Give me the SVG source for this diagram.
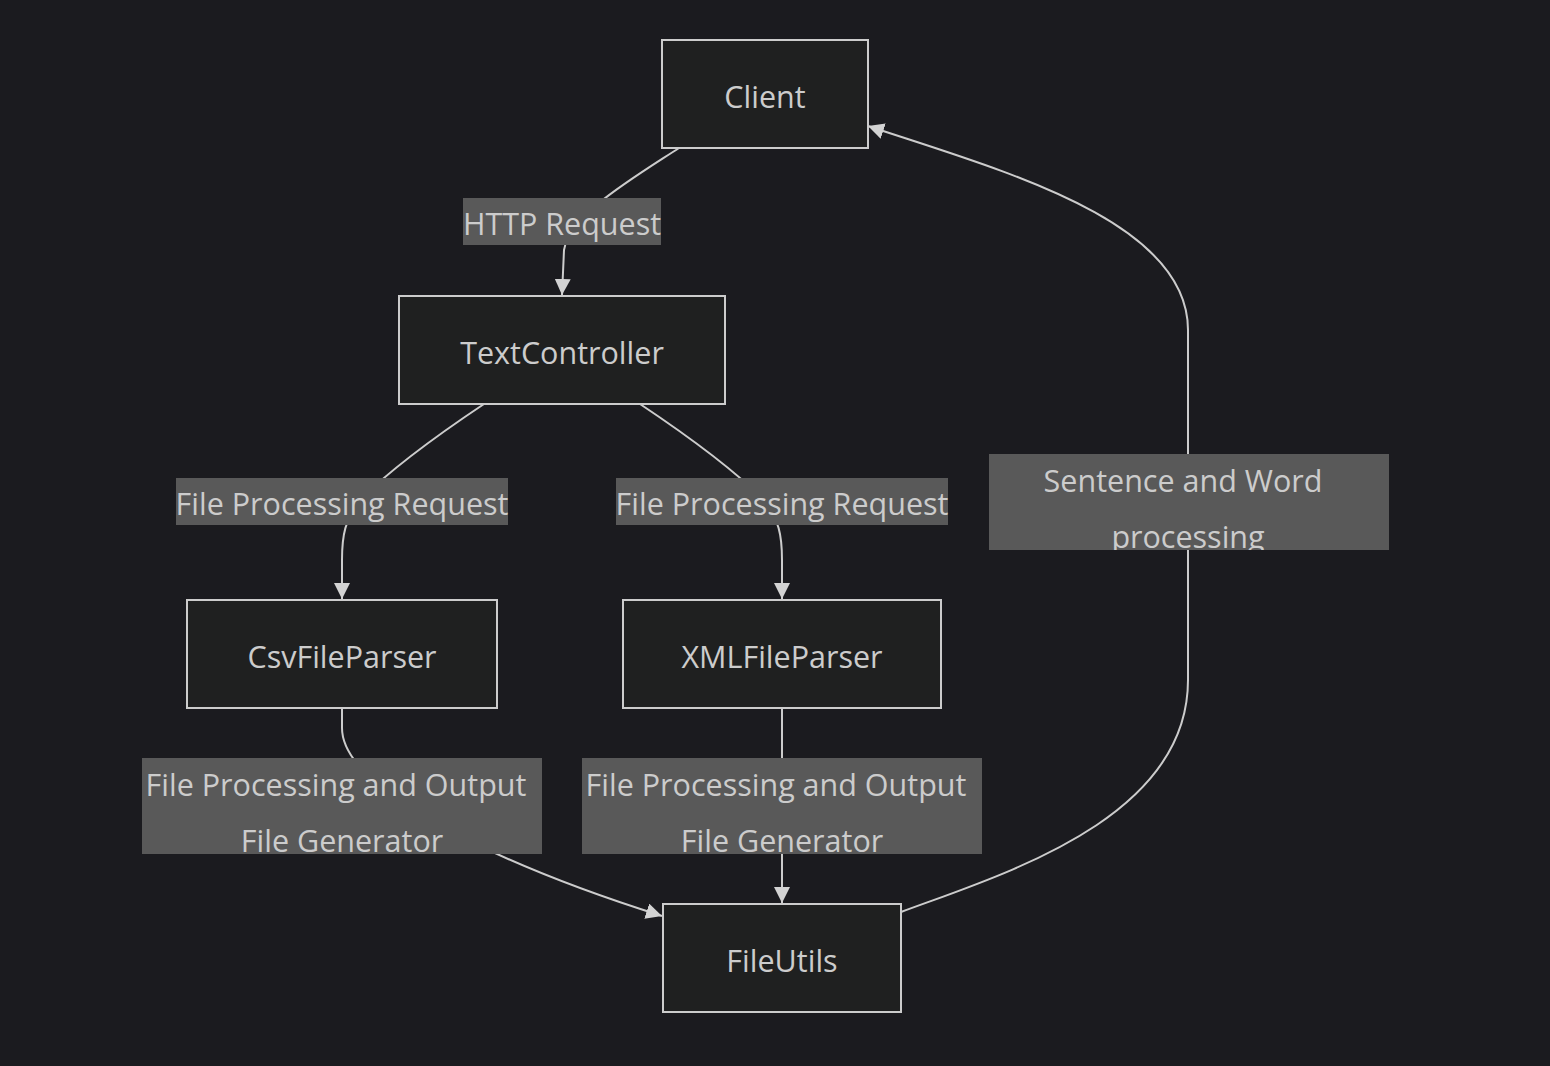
<svg xmlns="http://www.w3.org/2000/svg" width="1550" height="1066" viewBox="0 0 1550 1066">
<style>
.bg{fill:#1b1b1f}
.node rect{fill:#1f2020;stroke:#cccccc;stroke-width:2}
.node text{fill:#cccccc;font-family:"Open Sans","DejaVu Sans",sans-serif;font-size:30.5px;text-anchor:middle;dominant-baseline:central}
.edge{fill:none;stroke:#cccccc;stroke-width:2}
.lbl rect{fill:#595959}
.lbl text{fill:#cccccc;font-family:"Open Sans","DejaVu Sans",sans-serif;font-size:30.5px;text-anchor:middle;dominant-baseline:central}
</style>
<defs>
<marker id="arr" viewBox="0 0 10 10" refX="10" refY="5" markerWidth="8" markerHeight="8" markerUnits="strokeWidth" orient="auto">
<path d="M0,0 L10,5 L0,10 z" fill="#d3d3d3"/>
</marker>
<clipPath id="c1"><rect x="989" y="454" width="400" height="96"/></clipPath>
<clipPath id="c2"><rect x="142" y="758" width="400" height="96"/></clipPath>
<clipPath id="c3"><rect x="582" y="758" width="400" height="96"/></clipPath>
</defs>
<rect class="bg" x="0" y="0" width="1550" height="1066"/>
<g id="connectors">
<path class="edge" d="M679,148 C630,180 570,215 564,250 L562,295" marker-end="url(#arr)"/>
<path class="edge" d="M484,404 C445,430 395,465 360,500 C345,520 342,535 342,560 L342,599" marker-end="url(#arr)"/>
<path class="edge" d="M640,404 C679,430 729,465 764,500 C779,520 782,535 782,560 L782,599" marker-end="url(#arr)"/>
<path class="edge" d="M342,708 L342,728 C342,790 500,865 662,916" marker-end="url(#arr)"/>
<path class="edge" d="M782,708 L782,903" marker-end="url(#arr)"/>
<path class="edge" d="M901,912 C1000,875 1188,820 1188,680 L1188,330 C1188,220 1000,170 868,126" marker-end="url(#arr)"/>
</g>
<g id="label-http" class="lbl"><rect x="463" y="198" width="198" height="47"/><text x="562" y="223">HTTP Request</text></g>
<g id="label-fpr1" class="lbl"><rect x="176" y="478" width="332" height="47"/><text x="342" y="503">File Processing Request</text></g>
<g id="label-fpr2" class="lbl"><rect x="616" y="478" width="332" height="47"/><text x="782" y="503">File Processing Request</text></g>
<g id="label-swp" class="lbl"><rect x="989" y="454" width="400" height="96"/><g clip-path="url(#c1)"><text x="1183" y="480">Sentence and Word</text><text x="1188" y="536">processing</text></g></g>
<g id="label-fpo1" class="lbl"><rect x="142" y="758" width="400" height="96"/><g clip-path="url(#c2)"><text x="336" y="784">File Processing and Output</text><text x="342" y="840">File Generator</text></g></g>
<g id="label-fpo2" class="lbl"><rect x="582" y="758" width="400" height="96"/><g clip-path="url(#c3)"><text x="776" y="784">File Processing and Output</text><text x="782" y="840">File Generator</text></g></g>
<g id="Client" class="node"><rect x="662" y="40" width="206" height="108"/><text x="765" y="96">Client</text></g>
<g id="TextController" class="node"><rect x="399" y="296" width="326" height="108"/><text x="562" y="352">TextController</text></g>
<g id="CsvFileParser" class="node"><rect x="187" y="600" width="310" height="108"/><text x="342" y="656">CsvFileParser</text></g>
<g id="XMLFileParser" class="node"><rect x="623" y="600" width="318" height="108"/><text x="782" y="656">XMLFileParser</text></g>
<g id="FileUtils" class="node"><rect x="663" y="904" width="238" height="108"/><text x="782" y="960">FileUtils</text></g>
</svg>
